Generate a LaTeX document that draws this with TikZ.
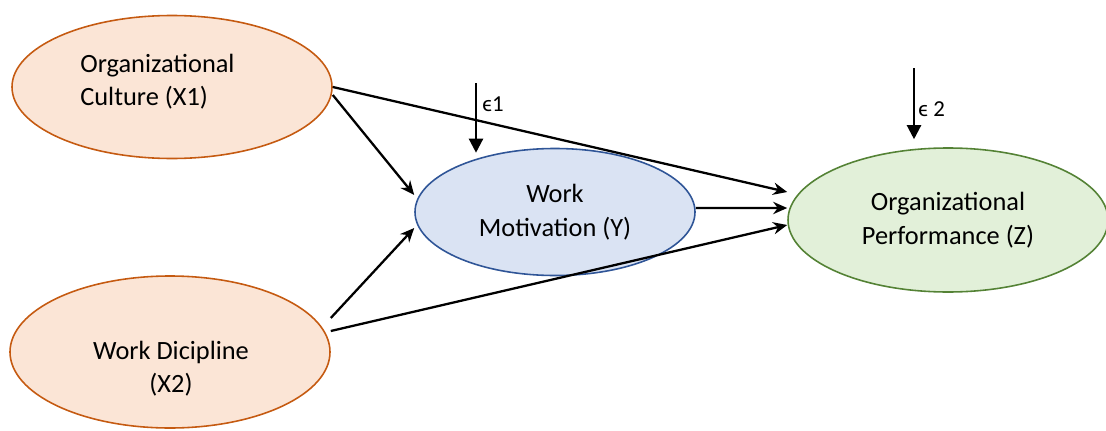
\documentclass[tikz,border=0pt]{standalone}
\usepackage{fontspec}
\setmainfont{Carlito}
\usetikzlibrary{arrows.meta,positioning,shapes.geometric,calc}

\definecolor{orgfill}{HTML}{FBE5D6}
\definecolor{orgdraw}{HTML}{C55A11}
\definecolor{bluefill}{HTML}{DAE3F3}
\definecolor{bluedraw}{HTML}{2F5597}
\definecolor{greenfill}{HTML}{E2F0D9}
\definecolor{greendraw}{HTML}{548235}

\tikzset{
  latent/.style={ellipse, line width=0.9pt, inner sep=0pt,
    font=\fontsize{15}{19}\selectfont, align=center},
  indep/.style={latent, draw=orgdraw, fill=orgfill},
  txt/.style={inner sep=0pt, font=\fontsize{15}{19}\selectfont},
  path/.style={-{Stealth[length=8pt,width=7pt]}, line width=1.3pt},
  errpath/.style={-{Triangle[length=8pt,width=8pt]}, line width=1.3pt},
  errlabel/.style={anchor=west, inner sep=0pt, font=\fontsize{13}{15}\selectfont}
}

\begin{document}
\begin{tikzpicture}[>=Stealth]
  \useasboundingbox (0,0) rectangle (22.12,-8.6);

  % Define nodes
  \node[indep, minimum width=6.4cm, minimum height=2.86cm] (X1) at (3.44,-1.74) {};
  \node[txt, anchor=west, align=left] (X1t) at (1.6,-1.63)
    {Organizational\\Culture (X1)};
  \node[indep, minimum width=6.4cm, minimum height=3.04cm] (X2) at (3.40,-7.04) {};
  \node[txt, align=center] (X2t) at (3.42,-7.37)
    {Work Dicipline\\(X2)};
  \node[latent, draw=bluedraw, fill=bluefill, minimum width=5.6cm, minimum height=2.54cm]
    (Y) at (11.10,-4.24) {Work\\Motivation (Y)};
  \node[latent, draw=greendraw, fill=greenfill, minimum width=6.4cm, minimum height=2.88cm]
    (Z) at (18.96,-4.40) {Organizational\\Performance (Z)};

  % Error terms
  \coordinate (e1) at (9.52,-1.66);
  \coordinate (e2) at (18.28,-1.36);
  \node[errlabel] (e1l) at (9.64,-2.08) {ϵ1};
  \node[errlabel] (e2l) at (18.36,-2.18) {ϵ 2};

  % Draw arrows
  \draw[path] (X1.east) -- ([yshift=0.56cm]Z.west);
  \draw[path] ([yshift=-0.16cm]X1.east) -- ([yshift=0.34cm]Y.west);
  \draw[path] ([yshift=0.68cm]X2.east) -- ([yshift=-0.32cm]Y.west);
  \draw[path] ([yshift=0.42cm]X2.east) -- ([yshift=-0.10cm]Z.west);
  \draw[path] ([yshift=0.08cm]Y.east) -- ([yshift=0.24cm]Z.west);
  \draw[errpath] (e1) -- ($(e1 |- Y.north)+(0,-0.1)$);
  \draw[errpath] (e2) -- ($(e2 |- Z.north)+(0,0.16)$);
\end{tikzpicture}
\end{document}
